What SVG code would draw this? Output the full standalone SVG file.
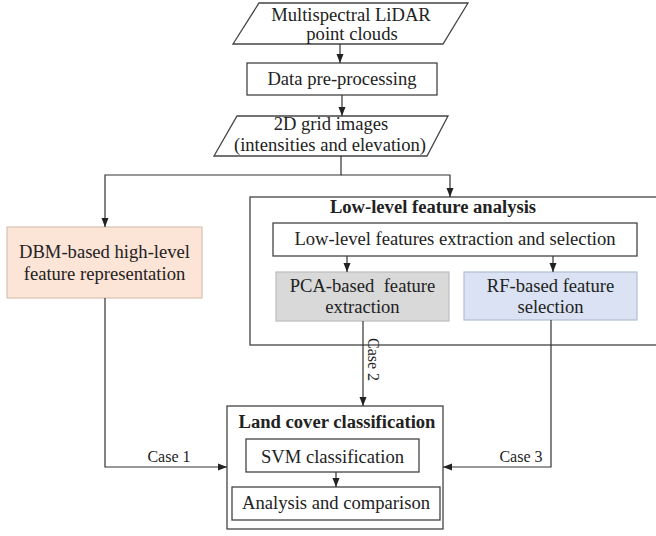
<svg xmlns="http://www.w3.org/2000/svg" width="656" height="536" viewBox="0 0 656 536">
<defs>
<marker id="arr" markerUnits="userSpaceOnUse" markerWidth="10" markerHeight="8" refX="9" refY="4" orient="auto">
<path d="M0,0.5 L9,4 L0,7.5 z" fill="#222"/>
</marker>
<style>
text{font-family:"Liberation Serif","Times New Roman",serif;font-size:18.6px;fill:#222;text-anchor:middle}
.b{font-weight:bold}
.s{font-size:16px}
.box{fill:#fff;stroke:#444;stroke-width:1.3}
.edge{fill:none;stroke:#333;stroke-width:1.2}
</style>
</defs>
<rect width="656" height="536" fill="#fff"/>
<g id="lowlevel-analysis">
<rect class="box" x="250" y="197" width="420" height="148"/>
<text class="b" x="433" y="213">Low-level feature analysis</text>
</g>
<g id="land-cover">
<rect class="box" x="227" y="406" width="216" height="123"/>
<text class="b" x="337" y="428">Land cover classification</text>
</g>
<g id="input">
<polygon class="box" points="259,3 468,3 443,44 233,44"/>
<text x="351" y="21">Multispectral LiDAR</text>
<text x="352" y="40">point clouds</text>
</g>
<g id="preprocess">
<rect class="box" x="247" y="63" width="190" height="32"/>
<text x="342" y="85">Data pre-processing</text>
</g>
<g id="grid">
<polygon class="box" points="237,116 448,116 427,156 214,156"/>
<text x="331" y="130">2D grid images</text>
<text x="330" y="151">(intensities and elevation)</text>
</g>
<g id="dbm">
<rect x="7" y="227" width="195" height="71" fill="#fce4d6" stroke="#d6c2b4" stroke-width="1.2"/>
<text x="104.5" y="258">DBM-based high-level</text>
<text x="104.5" y="280">feature representation</text>
</g>
<g id="lowlevel-extract">
<rect class="box" x="273" y="223" width="364" height="33"/>
<text x="455" y="245">Low-level features extraction and selection</text>
</g>
<g id="pca">
<rect x="276" y="272" width="173" height="49" fill="#d9d9d9" stroke="#bdbdbd" stroke-width="1.2"/>
<text x="362.5" y="292" xml:space="preserve">PCA-based  feature</text>
<text x="362.5" y="313">extraction</text>
</g>
<g id="rf">
<rect x="464" y="272" width="173" height="48" fill="#dae2f3" stroke="#b3bed6" stroke-width="1.2"/>
<text x="550.5" y="292">RF-based feature</text>
<text x="550.5" y="313">selection</text>
</g>
<g id="svm">
<rect class="box" x="246" y="439" width="173" height="33"/>
<text x="332.5" y="463">SVM classification</text>
</g>
<g id="analysis">
<rect class="box" x="232" y="487" width="208" height="33"/>
<text x="336" y="509">Analysis and comparison</text>
</g>
<g id="connectors">
<path class="edge" d="M340,44 V63" marker-end="url(#arr)"/>
<path class="edge" d="M342,95 V116" marker-end="url(#arr)"/>
<path class="edge" d="M341,156 V175 H105 V227" marker-end="url(#arr)"/>
<path class="edge" d="M341,175 H450 V197" marker-end="url(#arr)"/>
<path class="edge" d="M347,256 V272" marker-end="url(#arr)"/>
<path class="edge" d="M553,256 V272" marker-end="url(#arr)"/>
<path class="edge" d="M363,321 V406" marker-end="url(#arr)"/>
<path class="edge" d="M105,298 V467 H227" marker-end="url(#arr)"/>
<path class="edge" d="M551,320 V467 H443" marker-end="url(#arr)"/>
<path class="edge" d="M336,472 V487" marker-end="url(#arr)"/>
<text class="s" x="169" y="462">Case 1</text>
<text class="s" x="521" y="462">Case 3</text>
<text class="s" style="text-anchor:start" transform="translate(368,338) rotate(90)">Case 2</text>
</g>
</svg>
